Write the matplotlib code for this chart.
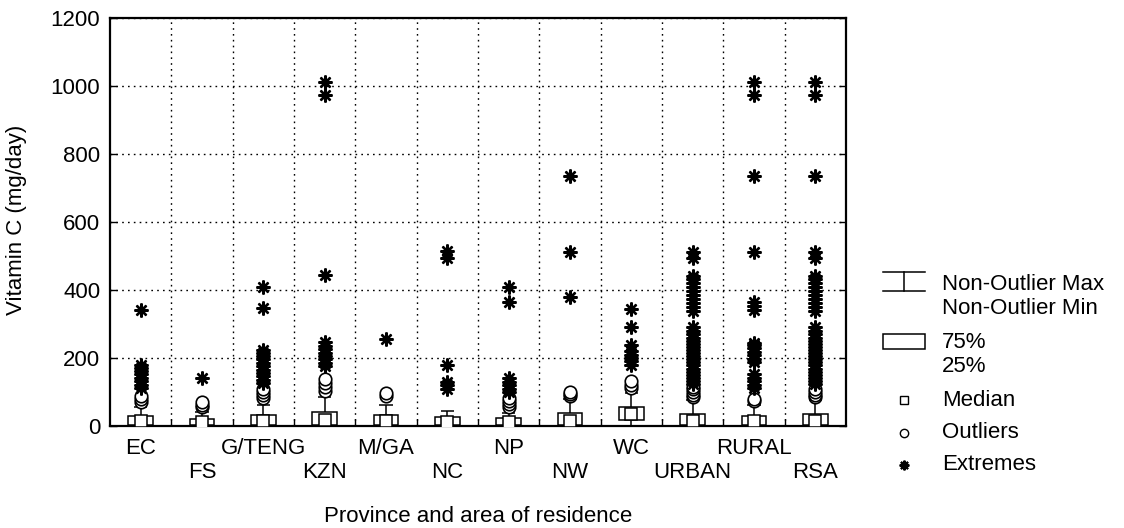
###Vitamin C box plot by province

'''
Box plot of vitamin C intake per province and area of residence,
with outliers and extremes drawn separately.
'''

########################################################################
### Modules ###
########################################################################
import numpy as np
import matplotlib.pyplot as plt
from matplotlib.lines import Line2D
from matplotlib.patches import Rectangle
from matplotlib.transforms import ScaledTranslation

plt.rcParams['font.family'] = ['Liberation Sans', 'DejaVu Sans']

########################################################################
### Data ###
########################################################################
categories = ['EC', 'FS', 'G/TENG', 'KZN', 'M/GA', 'NC', 'NP', 'NW',
              'WC', 'URBAN', 'RURAL', 'RSA']

q1 = [3, 2, 3, 2, 3, 2, 2, 3, 18, 3, 3, 3]
q3 = [28, 22, 33, 42, 32, 27, 23, 37, 57, 34, 30, 34]
medians = [14, 12, 15, 18, 14, 13, 12, 16, 36, 15, 14, 15]
whisk_min = [0, 0, 0, 0, 0, 0, 0, 0, 0, 0, 0, 0]
whisk_max = [57, 40, 62, 86, 62, 45, 38, 80, 97, 76, 62, 76]

outliers = [
    [70, 78, 88],
    [55, 62, 70],
    [82, 92, 100, 108],
    [104, 115, 126, 138],
    [88, 96],
    [],
    [55, 65, 75, 82],
    [88, 94, 100],
    [112, 122, 132],
    [85, 92, 100, 108, 115],
    [74, 80],
    [85, 92, 100, 108],
]

extremes = [
    [112, 122, 132, 142, 152, 162, 172, 180, 340],
    [141],
    [126, 136, 146, 156, 166, 176, 186, 196, 206, 216, 224, 347, 410],
    [176, 186, 196, 206, 216, 226, 236, 247, 444, 974, 1012],
    [257],
    [110, 120, 130, 178, 493, 516],
    [100, 110, 120, 130, 141, 366, 408],
    [380, 513, 735],
    [180, 190, 200, 210, 222, 238, 292, 345],
    [124, 133, 142, 151, 160, 169, 178, 187, 196, 205, 214, 223, 232,
     241, 250, 260, 270, 280, 290, 338, 350, 362, 374, 386, 398, 410,
     422, 432, 441, 495, 512],
    [112, 122, 132, 142, 152, 188, 198, 208, 218, 228, 238, 244, 340,
     352, 365, 513, 735, 974, 1012],
    [124, 133, 142, 151, 160, 169, 178, 187, 196, 205, 214, 223, 232,
     241, 250, 260, 270, 280, 290, 338, 350, 362, 374, 386, 398, 410,
     422, 432, 441, 495, 512, 735, 974, 1012],
]

y_ticks = [0, 200, 400, 600, 800, 1000, 1200]

########################################################################
### Figure ###
########################################################################
W, H = 1124, 528
FS = 16
fig = plt.figure(figsize=(W / 100, H / 100), dpi=100)
ax = fig.add_axes([110 / W, 102 / H, 736 / W, 408 / H])

x = np.arange(len(categories))
lw = 1.1

#whiskers and caps
ax.vlines(x, whisk_min, whisk_max, color='k', lw=lw, zorder=3)
ax.hlines(whisk_max, x - 0.11, x + 0.11, color='k', lw=lw, zorder=3)

#boxes
ax.bar(x, np.array(q3) - np.array(q1), bottom=q1, width=0.4,
       facecolor='white', edgecolor='k', lw=lw, zorder=3)

#median squares
ax.plot(x, medians, ls='none', marker='s', ms=8, mfc='white', mec='k',
        mew=lw, zorder=4)

#outliers and extremes
for i, (o, e) in enumerate(zip(outliers, extremes)):
    ax.plot([i] * len(o), o, ls='none', marker='o', ms=9, mfc='white',
            mec='k', mew=1.2, zorder=4)
    ax.plot([i] * len(e), e, ls='none', marker=(8, 2, 0), ms=10,
            mec='k', mew=1.7, zorder=5)

#axes limits and ticks
ax.set_xlim(-0.5, len(categories) - 0.5)
ax.set_ylim(0, 1200)
ax.set_yticks(y_ticks)
ax.set_xticks(x)
ax.set_xticklabels(categories)
ax.set_xticks(np.arange(0.5, len(categories) - 0.5), minor=True)
ax.tick_params(axis='x', which='major', length=0, pad=9, labelsize=FS)
ax.tick_params(axis='x', which='minor', direction='in', length=5,
               width=1, top=False)
ax.tick_params(axis='y', direction='in', length=5, width=1, pad=7,
               right=True, labelsize=FS)

#second row of category labels
shift = ScaledTranslation(0, -24 / 100, fig.dpi_scale_trans)
for i, lab in enumerate(ax.get_xticklabels()):
    if i % 2 == 1:
        lab.set_transform(lab.get_transform() + shift)

#grid
grid_style = dict(color='k', lw=1, ls=(0, (1.2, 3)))
ax.grid(axis='x', which='minor', **grid_style)
ax.grid(axis='y', which='major', **grid_style)
ax.set_axisbelow(True)

for s in ax.spines.values():
    s.set_linewidth(1.6)

#axis labels
fig.text(17 / W, 1 - 220 / H, 'Vitamin C (mg/day)', rotation=90,
         ha='center', va='center', fontsize=FS)
fig.text(478 / W, 1 - 516 / H, 'Province and area of residence',
         ha='center', va='center', fontsize=FS)

########################################################################
### Legend ###
########################################################################
def fx(px):
    return px / W


def fy(py):
    return 1 - py / H


tf = fig.transFigure
lx0, lx1, lxc = 883, 925, 904
tx = 942

fig.add_artist(Line2D([fx(lx0), fx(lx1)], [fy(272), fy(272)], color='k',
                      lw=lw, transform=tf))
fig.add_artist(Line2D([fx(lx0), fx(lx1)], [fy(291), fy(291)], color='k',
                      lw=lw, transform=tf))
fig.add_artist(Line2D([fx(lxc), fx(lxc)], [fy(272), fy(291)], color='k',
                      lw=lw, transform=tf))
fig.add_artist(Rectangle((fx(lx0), fy(349)), fx(lx1) - fx(lx0),
                         fy(334) - fy(349), facecolor='white',
                         edgecolor='k', lw=lw, transform=tf))
fig.add_artist(Line2D([fx(lxc)], [fy(400)], ls='none', marker='s', ms=6,
                      mfc='white', mec='k', mew=1, transform=tf))
fig.add_artist(Line2D([fx(lxc)], [fy(433)], ls='none', marker='o', ms=6,
                      mfc='white', mec='k', mew=1, transform=tf))
fig.add_artist(Line2D([fx(lxc)], [fy(465)], ls='none', marker=(8, 2, 0),
                      ms=7, mec='k', mew=1.5, transform=tf))

legend_texts = [('Non-Outlier Max', 284), ('Non-Outlier Min', 308),
                ('75%', 343), ('25%', 367), ('Median', 400),
                ('Outliers', 433), ('Extremes', 465)]
for txt, py in legend_texts:
    fig.text(fx(tx), fy(py), txt, ha='left', va='center', fontsize=FS)

fig.savefig('out.png', dpi=100)
